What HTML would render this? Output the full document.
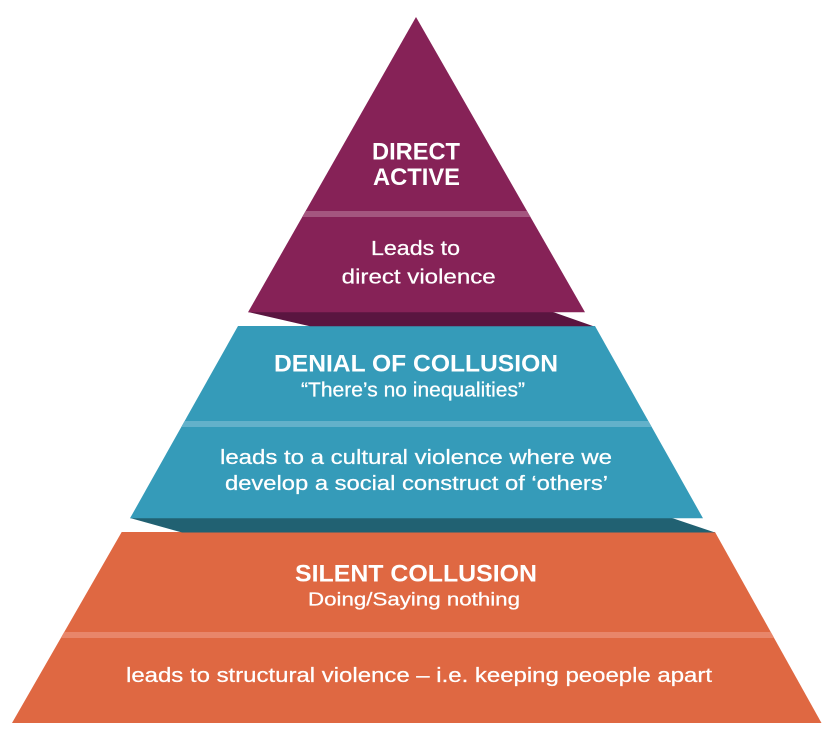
<!DOCTYPE html>
<html>
<head>
<meta charset="utf-8">
<style>
  html, body { margin: 0; padding: 0; background: #ffffff; }
  body { width: 840px; height: 751px; overflow: hidden; }
  svg { display: block; }
  text { font-family: "Liberation Sans", Arial, sans-serif; fill: #ffffff; }
  .t { font-weight: 700; font-size: 24.5px; }
  .b { font-weight: 400; font-size: 20px; stroke: #ffffff; stroke-width: 0.25px; }
</style>
</head>
<body>
<svg width="840" height="751" viewBox="0 0 840 751" xmlns="http://www.w3.org/2000/svg">
  <defs>
    <clipPath id="cO"><polygon points="121.7,532 715,532 821.5,723 12,723"/></clipPath>
    <clipPath id="cT"><polygon points="238,326 595,326 703,518.3 130,518.3"/></clipPath>
    <clipPath id="cP"><polygon points="416,17 585,312.3 248,312.3"/></clipPath>
  </defs>
  <rect x="0" y="0" width="840" height="751" fill="#ffffff"/>

  <!-- Orange base -->
  <polygon points="121.7,532 715,532 821.5,723 12,723" fill="#df6842"/>
  <rect x="0" y="632" width="840" height="6" fill="#e8866a" clip-path="url(#cO)"/>

  <!-- Dark teal underside band -->
  <polygon points="130,518 672,518 715,532.5 182,532.5" fill="#216172"/>

  <!-- Teal middle -->
  <polygon points="238,326 595,326 703,518.3 130,518.3" fill="#359bb9"/>
  <rect x="0" y="421" width="840" height="6" fill="#63b1ca" clip-path="url(#cT)"/>

  <!-- Dark purple underside band -->
  <polygon points="248,312 553,312 593.5,326.2 310,326.2" fill="#5a1540"/>

  <!-- Purple top -->
  <polygon points="416,17 585,312.3 248,312.3" fill="#862257"/>
  <rect x="0" y="211" width="840" height="6" fill="#a4567f" clip-path="url(#cP)"/>

  <!-- Purple texts -->
  <text class="t" x="416" y="159.3" text-anchor="middle" textLength="88" lengthAdjust="spacingAndGlyphs">DIRECT</text>
  <text class="t" x="416.5" y="185" text-anchor="middle" textLength="87" lengthAdjust="spacingAndGlyphs">ACTIVE</text>
  <text class="b" x="415.5" y="255" text-anchor="middle" textLength="89" lengthAdjust="spacingAndGlyphs" style="font-size:20.5px">Leads to</text>
  <text class="b" x="418.7" y="283.3" text-anchor="middle" textLength="154" lengthAdjust="spacingAndGlyphs" style="font-size:20.5px">direct violence</text>

  <!-- Teal texts -->
  <text class="t" x="416" y="371.7" text-anchor="middle" textLength="284" lengthAdjust="spacingAndGlyphs">DENIAL OF COLLUSION</text>
  <text class="b" x="413" y="396.7" text-anchor="middle" textLength="224" lengthAdjust="spacingAndGlyphs">“There’s no inequalities”</text>
  <text class="b" x="416" y="464" text-anchor="middle" textLength="392" lengthAdjust="spacingAndGlyphs">leads to a cultural violence where we</text>
  <text class="b" x="416.5" y="490" text-anchor="middle" textLength="383" lengthAdjust="spacingAndGlyphs">develop a social construct of ‘others’</text>

  <!-- Orange texts -->
  <text class="t" x="416" y="581.7" text-anchor="middle" textLength="242" lengthAdjust="spacingAndGlyphs">SILENT COLLUSION</text>
  <text class="b" x="414" y="605.7" text-anchor="middle" textLength="212" lengthAdjust="spacingAndGlyphs" style="font-size:18.5px">Doing/Saying nothing</text>
  <text class="b" x="419" y="682" text-anchor="middle" textLength="586" lengthAdjust="spacingAndGlyphs">leads to structural violence – i.e. keeping peoeple apart</text>
</svg>
</body>
</html>
